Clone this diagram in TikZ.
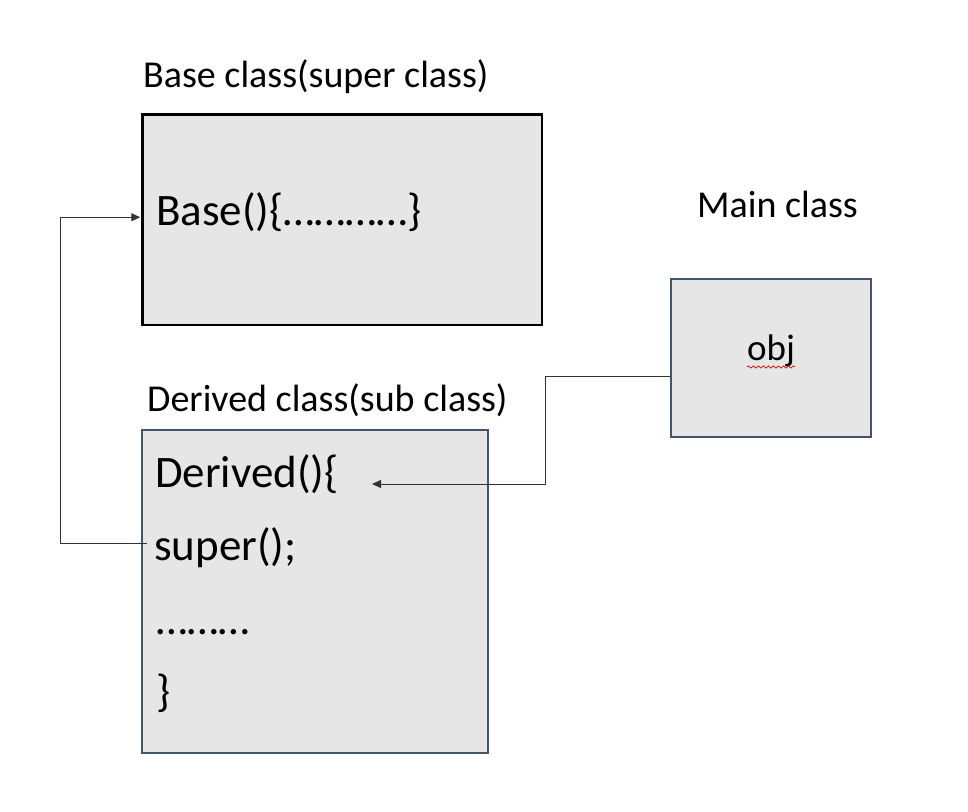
\documentclass[tikz,border=0pt]{standalone}
\usepackage{fontspec}
\setmainfont{Carlito}
\usetikzlibrary{arrows.meta,decorations.pathmorphing}
\definecolor{boxfill}{HTML}{E6E6E6}
\definecolor{slate}{HTML}{44546A}
\begin{document}
\begin{tikzpicture}[x=1pt,y=-1pt,
  box/.style={rectangle, fill=boxfill, anchor=north west, inner sep=0pt},
  lbl/.style={anchor=base west, inner sep=0pt, font=\fontsize{38}{40}\selectfont},
  code/.style={anchor=west, inner sep=0pt, text height=34pt, text depth=0pt, font=\fontsize{45}{50}\selectfont},
  conn/.style={draw=black!80, line width=1pt},
  tip/.style={-{Triangle[length=9pt,width=8pt]}},
  squiggle/.style={draw=red!85!black, line width=0.7pt, decorate, decoration={snake, segment length=5pt, amplitude=1.2pt}}]
\useasboundingbox[fill=white] (0,0) rectangle (968,811);

% boxes
\node[box, draw=black, line width=2.5pt, minimum width=399.5pt, minimum height=210.5pt] (base) at (141.25,113.25) {};
\node[box, draw=slate, line width=2pt, minimum width=346pt, minimum height=323pt] (derived) at (141,429) {};
\node[box, draw=slate, line width=2pt, minimum width=200pt, minimum height=158pt] (main) at (670,278) {};

% labels
\node[lbl] (baselbl) at (143,87) {Base class(super class)};
\node[lbl] (derlbl) at (147,411) {Derived class(sub class)};
\node[lbl] (mainlbl) at (697,217) {Main class};

% code lines
\node[code] (basecode) at (156,208) {Base()\{…………\}};
\node[code] (dercode) at (155,470) {Derived()\{};
\node[code] (supert) at (154,543) {super();};
\node[code] (dots) at (156,617) {………};
\node[code] (close) at (156,689) {\}};

% obj
\node[anchor=base, inner sep=0pt, font=\fontsize{37}{40}\selectfont] (obj) at (771,360) {obj};
\draw[squiggle] ([yshift=-7pt]obj.base west) -- ([yshift=-7pt]obj.base east);

% connectors
\coordinate (dtip) at (372,484);
\draw[conn, tip] ([xshift=-7pt]supert.west) -| ([xshift=-81.25pt, yshift=2.5pt]base.west) -- ([xshift=-1pt, yshift=2.5pt]base.west);
\draw[conn, tip] ([yshift=-18pt]main.west) -| ([xshift=173pt]dtip) -- (dtip);
\end{tikzpicture}
\end{document}
